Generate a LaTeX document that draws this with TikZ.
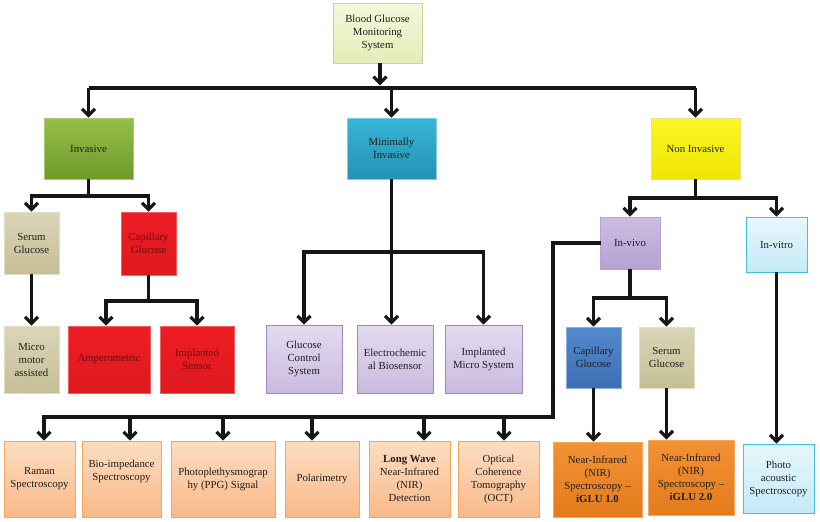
\documentclass[tikz,border=0pt]{standalone}
\usepackage{fontspec}
\setmainfont{Liberation Serif}
\usetikzlibrary{arrows.meta, shadows}
\definecolor{linkblack}{RGB}{22,22,22}
\definecolor{textgray}{RGB}{30,30,30}
\definecolor{darkred}{RGB}{110,12,12}
\tikzset{box/.style={rectangle, draw, align=center, inner sep=1pt, line width=0.8pt, text=textgray,
    font=\fontsize{10.8}{13}\selectfont, drop shadow={shadow xshift=1.2pt, shadow yshift=-1.2pt, opacity=0.25}},
paleolivebox/.style={box, top color={rgb,255:red,243;green,248;blue,220}, bottom color={rgb,255:red,226;green,237;blue,184}, draw={rgb,255:red,200;green,216;blue,154}},
greenbox/.style={box, top color={rgb,255:red,150;green,190;blue,72}, bottom color={rgb,255:red,110;green,154;blue,43}, draw={rgb,255:red,170;green,201;blue,110}},
tealbox/.style={box, top color={rgb,255:red,56;green,182;blue,214}, bottom color={rgb,255:red,36;green,146;blue,179}, draw={rgb,255:red,128;green,205;blue,227}},
yellowbox/.style={box, top color={rgb,255:red,255;green,246;blue,40}, bottom color={rgb,255:red,238;green,230;blue,0}, draw={rgb,255:red,232;green,226;blue,140}},
tanbox/.style={box, top color={rgb,255:red,218;green,213;blue,182}, bottom color={rgb,255:red,197;green,190;blue,151}, draw={rgb,255:red,226;green,222;blue,200}},
redbox/.style={box, top color={rgb,255:red,238;green,28;blue,37}, bottom color={rgb,255:red,221;green,26;blue,31}, draw={rgb,255:red,240;green,96;blue,96}, text=darkred},
lavenderbox/.style={box, top color={rgb,255:red,228;green,219;blue,241}, bottom color={rgb,255:red,201;green,186;blue,222}, draw={rgb,255:red,156;green,137;blue,192}},
violetbox/.style={box, top color={rgb,255:red,204;green,189;blue,225}, bottom color={rgb,255:red,182;green,162;blue,210}, draw={rgb,255:red,181;green,164;blue,207}},
skybox/.style={box, top color={rgb,255:red,230;green,247;blue,252}, bottom color={rgb,255:red,196;green,234;blue,247}, draw={rgb,255:red,69;green,191;blue,224}},
bluebox/.style={box, top color={rgb,255:red,84;green,138;blue,206}, bottom color={rgb,255:red,62;green,110;blue,181}, draw={rgb,255:red,138;green,176;blue,221}},
peachbox/.style={box, top color={rgb,255:red,252;green,221;blue,194}, bottom color={rgb,255:red,249;green,185;blue,136}, draw={rgb,255:red,246;green,166;blue,92}},
orangebox/.style={box, top color={rgb,255:red,243;green,146;blue,52}, bottom color={rgb,255:red,226;green,123;blue,27}, draw={rgb,255:red,243;green,167;blue,97}},
link/.style={draw=linkblack, line width=3.2pt},
arr/.style={link, -{Straight Barb[length=6.5pt, width=13pt]}}}

\begin{document}
\begin{tikzpicture}[x=1pt, y=-1pt]
        % Background
        \fill[white] (0,0) rectangle (820,522);
        \useasboundingbox (0,0) rectangle (820,522);
        % Level 1 and 2
        \node[paleolivebox, minimum width=89pt, minimum height=60pt] (top) at (377.5,33) {Blood Glucose\\Monitoring\\System};
        \node[greenbox, minimum width=89pt, minimum height=61pt] (inv) at (88.5,148.5) {Invasive};
        \node[tealbox, minimum width=89pt, minimum height=61pt] (mini) at (391.5,148.5) {Minimally\\Invasive};
        \node[yellowbox, minimum width=89pt, minimum height=61pt] (noninv) at (695.5,148.5) {Non Invasive};
        % Invasive branch
        \node[tanbox, minimum width=55pt, minimum height=62pt] (serumA) at (31.5,243) {Serum\\Glucose};
        \node[redbox, minimum width=55pt, minimum height=63pt] (capA) at (148.5,243.5) {Capillary\\Glucose};
        \node[tanbox, minimum width=55pt, minimum height=67pt] (micro) at (31.5,359.5) {Micro\\motor\\assisted};
        \node[redbox, minimum width=82pt, minimum height=67pt] (amp) at (109,359.5) {Amperometric};
        \node[redbox, minimum width=74pt, minimum height=67pt] (implsens) at (197,359.5) {Implanted\\Sensor};
        % Minimally invasive branch
        \node[lavenderbox, minimum width=76pt, minimum height=68pt] (gcs) at (304,359) {Glucose\\Control\\System};
        \node[lavenderbox, minimum width=76pt, minimum height=68pt] (echem) at (395,359) {Electrochemic\\al Biosensor};
        \node[lavenderbox, minimum width=77pt, minimum height=68pt] (implmicro) at (483.5,359) {Implanted\\Micro System};
        % Non invasive branch
        \node[violetbox, minimum width=60pt, minimum height=52pt] (invivo) at (630,243) {In-vivo};
        \node[skybox, minimum width=61pt, minimum height=55pt] (invitro) at (776.5,244.5) {In-vitro};
        \node[bluebox, minimum width=55pt, minimum height=61pt] (capB) at (593.5,357.5) {Capillary\\Glucose};
        \node[tanbox, minimum width=55pt, minimum height=61pt] (serumB) at (666.5,357.5) {Serum\\Glucose};
        % Bottom row
        \node[peachbox, minimum width=71pt, minimum height=76pt] (raman) at (39.5,479) {Raman\\Spectroscopy};
        \node[peachbox, minimum width=79pt, minimum height=76pt] (bioimp) at (121.5,479) {Bio-impedance\\Spectroscopy\\[4pt]};
        \node[peachbox, minimum width=104pt, minimum height=76pt] (ppg) at (223,479) {Photoplethysmograp\\hy (PPG) Signal};
        \node[peachbox, minimum width=74pt, minimum height=76pt] (polar) at (322,479) {Polarimetry};
        \node[peachbox, minimum width=81pt, minimum height=76pt] (lwnir) at (409.5,479) {\textbf{Long Wave}\\Near-Infrared\\(NIR)\\Detection};
        \node[peachbox, minimum width=81pt, minimum height=76pt] (oct) at (498.5,479) {Optical\\Coherence\\Tomography\\(OCT)};
        \node[orangebox, minimum width=89pt, minimum height=75pt] (nirA) at (597.5,479.5) {Near-Infrared\\(NIR)\\Spectroscopy --\\\textbf{iGLU 1.0}};
        \node[orangebox, minimum width=86pt, minimum height=75pt] (nirB) at (691,477.5) {Near-Infrared\\(NIR)\\Spectroscopy --\\\textbf{iGLU 2.0}};
        \node[skybox, minimum width=71pt, minimum height=69pt] (photo) at (778.5,478.5) {Photo\\acoustic\\Spectroscopy};
        % Junctions
        \coordinate (jtop) at (380,88);
        \coordinate (jinv) at (88.5,196);
        \coordinate (jcap) at (148.5,301);
        \coordinate (jmini) at (391.5,252);
        \coordinate (jnon) at (695.5,198);
        \coordinate (jvivo) at (630,298);
        \coordinate (jbus) at (553,417);
        % Links
        \draw[arr] (top.south -| jtop) -- ++(0,22);
        \draw[link] (inv |- jtop) -- (noninv |- jtop);
        \foreach \n in {inv, mini, noninv} {
            \draw[arr] (\n |- jtop) -- (\n);
        }
        \draw[link] (inv) -- (jinv);
        \draw[arr] (jinv) -| (serumA);
        \draw[arr] (jinv) -| (capA);
        \draw[arr] (serumA) -- (micro);
        \draw[link] (capA) -- (jcap);
        \draw[arr] (jcap) -| ([xshift=-3pt]amp.north);
        \draw[arr] (jcap) -| (implsens);
        \draw[link] (mini) -- (jmini);
        \draw[arr] (jmini) -| (gcs);
        \draw[arr] (jmini) -- (jmini |- echem.north);
        \draw[arr] (jmini) -| (implmicro);
        \draw[link] (noninv) -- (jnon);
        \draw[arr] (jnon) -| (invivo);
        \draw[arr] (jnon) -| (invitro);
        \draw[link] (invivo) -- (jvivo);
        \draw[arr] (jvivo) -| (capB);
        \draw[arr] (jvivo) -| (serumB);
        \draw[arr] (capB) -- (capB |- nirA.north);
        \draw[arr] (serumB) -- (serumB |- nirB.north);
        \draw[arr] (invitro) -- (invitro |- photo.north);
        \draw[link, line cap=rect] (invivo.west) -| (jbus) -- ([xshift=4.5pt]raman.north |- jbus);
        \foreach \n/\dx in {raman/4.5, bioimp/8.5, ppg/0, polar/-10, lwnir/14.5, oct/5.5} {
            \draw[arr] ([xshift=\dx pt]\n.north |- jbus) -- ([xshift=\dx pt]\n.north);
        }
\end{tikzpicture}
\end{document}
